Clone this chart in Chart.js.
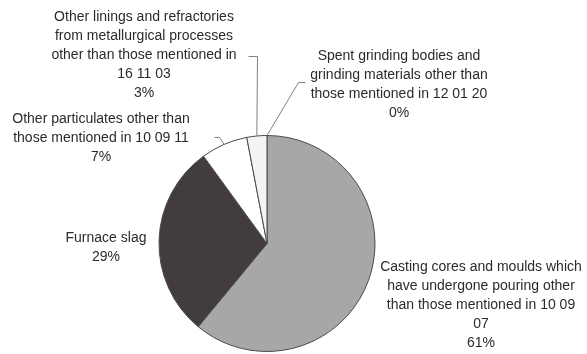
<!DOCTYPE html>
<html>
<head>
<meta charset="utf-8">
<title>Waste composition</title>
<script src="https://cdn.jsdelivr.net/npm/chart.js@4.4.1/dist/chart.umd.min.js"></script>
<style>
  html, body { margin: 0; padding: 0; background: #fff; }
  #wrap { width: 587px; height: 354px; position: relative; }
</style>
</head>
<body>
<div id="wrap"><canvas id="pie"></canvas></div>
<script>
/* ===========================
   Data
   =========================== */

const categories = [
  "Casting cores and moulds which have undergone pouring other than those mentioned in 10 09 07",
  "Furnace slag",
  "Other particulates other than those mentioned in 10 09 11",
  "Other linings and refractories from metallurgical processes other than those mentioned in 16 11 03",
  "Spent grinding bodies and grinding materials other than those mentioned in 12 01 20"
];

const shares = [61, 29, 7, 3, 0];

// wrapped label lines, as shown next to each slice
const labelLines = [
  ["Casting cores and moulds which", "have undergone pouring other", "than those mentioned in 10 09", "07"],
  ["Furnace slag"],
  ["Other particulates other than", "those mentioned in 10 09 11"],
  ["Other linings and refractories", "from metallurgical processes", "other than those mentioned in", "16 11 03"],
  ["Spent grinding bodies and", "grinding materials other than", "those mentioned in 12 01 20"]
];

const sliceColors = ["#a7a7a7", "#423d3c", "#ffffff", "#f3f3f3", "#d9d9d9"];

/* ===========================
   Label placement
   =========================== */

// x = centre of the text block, y = middle of first line
// elbow = where the leader line leaves the text (null = no leader)
const labelLayout = [
  { x: 481, y: 267, elbow: null },
  { x: 106, y: 238, elbow: null },
  { x: 101, y: 119, elbow: [[214, 137], [219, 137]] },
  { x: 144, y: 17,  elbow: [[248, 56], [257, 56]] },
  { x: 399, y: 56,  elbow: [[305, 82], [298, 82]] }
];

const LINE_H = 19;
const FONT = "14px 'Liberation Sans', Arial, sans-serif";

const pieLabels = {
  id: "pieLabels",
  afterDraw(chart) {
    const ctx = chart.ctx;
    const meta = chart.getDatasetMeta(0);
    const total = shares.reduce((a, b) => a + b, 0);

    ctx.save();

    // leader lines
    ctx.strokeStyle = "#808080";
    ctx.lineWidth = 1;
    meta.data.forEach((arc, i) => {
      const lay = labelLayout[i];
      if (!lay.elbow) return;
      const p = arc.getProps(["x", "y", "startAngle", "endAngle", "outerRadius"], true);
      const mid = (p.startAngle + p.endAngle) / 2;
      const ax = p.x + Math.cos(mid) * p.outerRadius;
      const ay = p.y + Math.sin(mid) * p.outerRadius;
      ctx.beginPath();
      ctx.moveTo(lay.elbow[0][0] + 0.5, lay.elbow[0][1] + 0.5);
      ctx.lineTo(lay.elbow[1][0] + 0.5, lay.elbow[1][1] + 0.5);
      ctx.lineTo(ax, ay);
      ctx.stroke();
    });

    // text
    ctx.font = FONT;
    ctx.fillStyle = "#2b2b2b";
    ctx.textAlign = "center";
    ctx.textBaseline = "middle";
    labelLines.forEach((lines, i) => {
      const lay = labelLayout[i];
      const pct = Math.round(shares[i] / total * 100) + "%";
      lines.concat([pct]).forEach((t, k) => {
        ctx.fillText(t, lay.x, lay.y + k * LINE_H);
      });
    });

    ctx.restore();
  }
};

/* ===========================
   Chart
   =========================== */

new Chart(document.getElementById("pie"), {
  type: "pie",
  data: {
    labels: categories,
    datasets: [{
      data: shares,
      backgroundColor: sliceColors,
      borderColor: "#4a4a4a",
      borderWidth: 1
    }]
  },
  options: {
    responsive: true,
    maintainAspectRatio: false,
    animation: false,
    layout: { padding: { top: 135, bottom: 2, left: 0, right: 53 } },
    plugins: {
      legend: { display: false },
      tooltip: { enabled: false }
    }
  },
  plugins: [pieLabels]
});
</script>
</body>
</html>
